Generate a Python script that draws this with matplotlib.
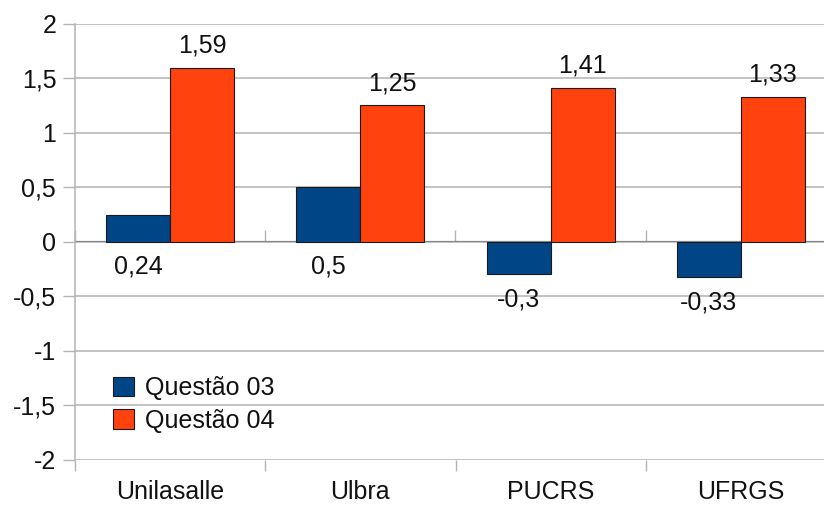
import matplotlib
matplotlib.use("Agg")
import matplotlib.pyplot as plt
import numpy as np
from matplotlib.ticker import FuncFormatter

categories = ["Unilasalle", "Ulbra", "PUCRS", "UFRGS"]
questao_03 = [0.24, 0.5, -0.3, -0.33]
questao_04 = [1.59, 1.25, 1.41, 1.33]
series_names = ["Questão 03", "Questão 04"]

BLUE = "#004586"
ORANGE = "#ff420e"
GRID = "#b3b3b3"
TEXT = "#111111"


def fmt(v):
    return f"{v:g}".replace(".", ",")


def main() -> None:
    plt.rcParams["font.family"] = ["Liberation Sans", "DejaVu Sans"]
    fig = plt.figure(figsize=(8.24, 5.05), dpi=100)
    ax = fig.add_axes([75 / 824, 45.5 / 505, 761 / 824, 436 / 505])

    x = np.arange(len(categories))
    w = 0.337
    ax.bar(x - w / 2, questao_03, w, color=BLUE, edgecolor="#1a1a1a",
           linewidth=0.8, label=series_names[0], zorder=3)
    ax.bar(x + w / 2, questao_04, w, color=ORANGE, edgecolor="#1a1a1a",
           linewidth=0.8, label=series_names[1], zorder=3)

    # value labels (LibreOffice puts the blue ones under the base line)
    for xi, v in zip(x, questao_03):
        ax.annotate(fmt(v), (xi - w / 2, min(v, 0)), xytext=(0, -18),
                    textcoords="offset points", ha="center", va="center",
                    fontsize=18, color=TEXT)
    for xi, v in zip(x, questao_04):
        ax.annotate(fmt(v), (xi + w / 2, v), xytext=(0, 16),
                    textcoords="offset points", ha="center", va="center",
                    fontsize=18, color=TEXT)

    ax.set_xlim(-0.5, len(categories) - 0.5)
    ax.set_ylim(-2, 2)
    ax.set_yticks(np.arange(-2, 2.01, 0.5))
    ax.yaxis.set_major_formatter(FuncFormatter(lambda v, p: fmt(v)))
    ax.yaxis.grid(True, color=GRID, linewidth=1.1, zorder=0)

    # category boundaries as major ticks, names on minor ticks
    ax.set_xticks(np.arange(-0.5, len(categories), 1.0))
    ax.set_xticklabels([])
    ax.set_xticks(x, minor=True)
    ax.set_xticklabels(categories, minor=True)
    ax.tick_params(axis="x", which="major", length=8, width=1, color=GRID)
    ax.tick_params(axis="x", which="minor", length=0, pad=15, labelsize=18,
                   labelcolor=TEXT)
    ax.tick_params(axis="y", length=8.5, width=1, color=GRID, pad=5,
                   labelsize=18, labelcolor=TEXT)

    for side in ("top", "right", "bottom"):
        ax.spines[side].set_visible(False)
    ax.spines["left"].set_color(GRID)
    ax.spines["left"].set_linewidth(1.1)

    # ticks along the zero line too
    sec = ax.secondary_xaxis(0.5)
    sec.set_xticks(np.arange(-0.5, len(categories), 1.0))
    sec.set_xticklabels([])
    sec.tick_params(length=8, width=1, color=GRID)
    sec.spines["bottom"].set_color(GRID)
    sec.spines["bottom"].set_linewidth(1.1)

    ax.legend(loc="center left", bbox_to_anchor=(113 / 824, 100.5 / 505),
              bbox_transform=fig.transFigure, frameon=False, fontsize=18,
              handlelength=0.84, handleheight=0.84, handletextpad=0.45,
              labelspacing=0.35, borderpad=0, borderaxespad=0,
              labelcolor=TEXT)

    fig.savefig("out.png", dpi=100)


if __name__ == "__main__":
    main()
